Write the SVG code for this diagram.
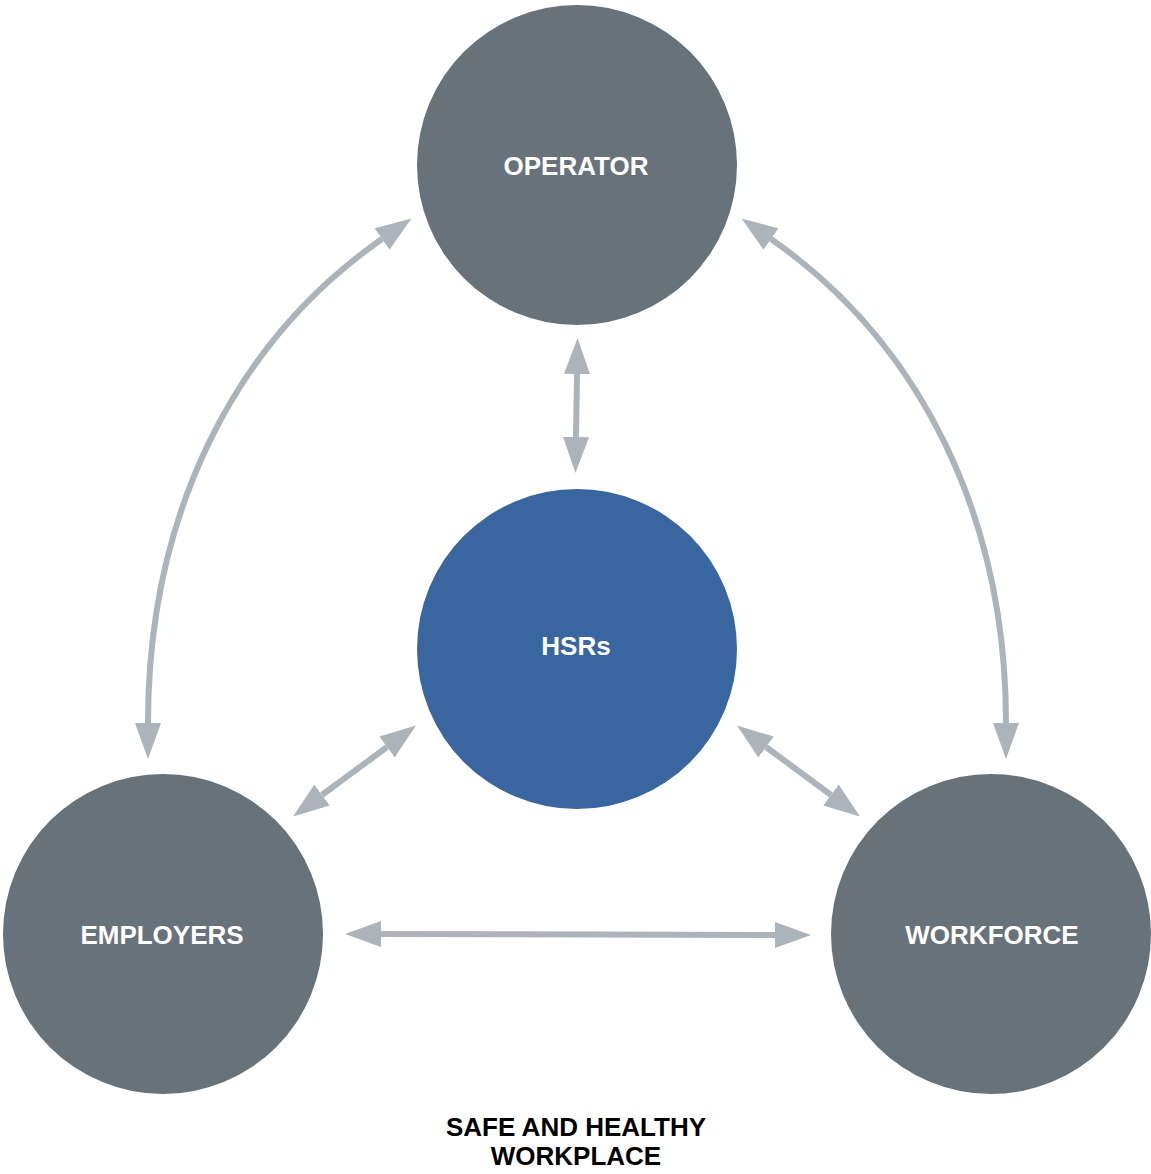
<svg xmlns="http://www.w3.org/2000/svg" width="1151" height="1174" viewBox="0 0 1151 1174">
<style>
.node{fill:#68727b}
.hub{fill:#3a66a0}
.lbl{font-family:"Liberation Sans",Arial,sans-serif;font-weight:bold;font-size:26px;fill:#ffffff;text-anchor:middle}
.cap{font-family:"Liberation Sans",Arial,sans-serif;font-weight:bold;font-size:26px;fill:#000000;text-anchor:middle}
.con{fill:none;stroke:#adb3ba;stroke-width:6;marker-start:url(#ah);marker-end:url(#ah)}
</style>
<defs>
<marker id="ah" markerUnits="userSpaceOnUse" viewBox="0 0 36 26" refX="0" refY="13" markerWidth="36" markerHeight="26" orient="auto-start-reverse">
<path d="M0,0 L36,13 L0,26 z" fill="#adb3ba"/>
</marker>
</defs>
<rect width="1151" height="1174" fill="#ffffff"/>
<g id="connectors">
<path class="con" d="M382,239 C230,345 148,520 148,723"/>
<path class="con" d="M771,239 C923,345 1006,520 1006,723"/>
<path class="con" d="M577,374 L576,437"/>
<path class="con" d="M387,747 L322,795"/>
<path class="con" d="M766,747 L831,795"/>
<path class="con" d="M381,934 L775,935"/>
</g>
<g id="operator"><circle class="node" cx="577" cy="165" r="160"/><text class="lbl" x="576" y="174.5">OPERATOR</text></g>
<g id="hsrs"><circle class="hub" cx="577" cy="649" r="160"/><text class="lbl" x="576" y="654.5">HSRs</text></g>
<g id="employers"><circle class="node" cx="163" cy="934" r="160"/><text class="lbl" x="162" y="944">EMPLOYERS</text></g>
<g id="workforce"><circle class="node" cx="991" cy="934" r="160"/><text class="lbl" x="992" y="944">WORKFORCE</text></g>
<g id="caption"><text class="cap" x="576" y="1136">SAFE AND HEALTHY</text><text class="cap" x="576" y="1165">WORKPLACE</text></g>
</svg>
